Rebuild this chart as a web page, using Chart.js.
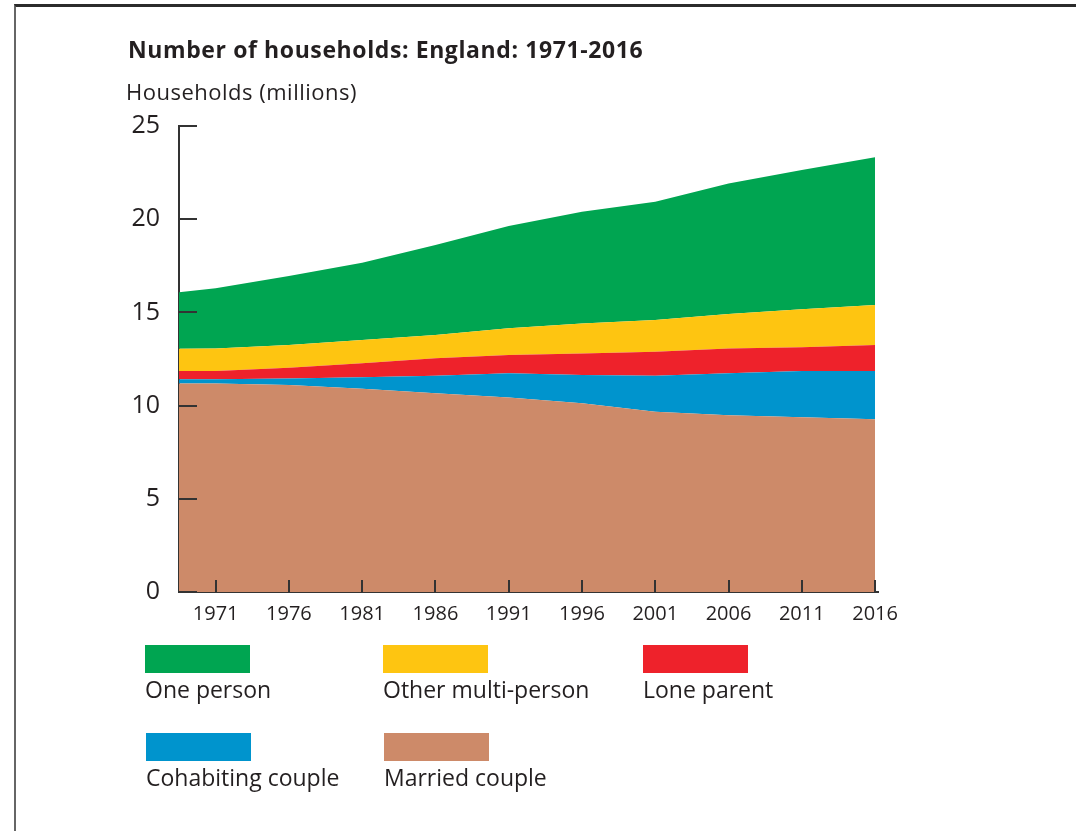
<!DOCTYPE html>
<html>
<head>
<meta charset="utf-8">
<script src="https://cdn.jsdelivr.net/npm/chart.js@4"></script>
<style>
    html, body { margin: 0; padding: 0; background: #fff; }
    body { width: 1076px; height: 831px; position: relative; overflow: hidden; font-family: 'Open Sans', sans-serif; color: #231f20; }
    #frame { position: absolute; left: 14px; top: 4px; right: -10px; bottom: -10px; border-top: 3px solid #2b2b2b; border-left: 2px solid #666; }
    #wrap { position: absolute; left: 0; top: 0; width: 1076px; height: 831px; }
    #title { position: absolute; left: 128px; top: 33px; font-size: 23px; font-weight: 700; letter-spacing: 0.6px; }
    #ytitle { position: absolute; left: 126px; top: 76px; font-size: 22px; letter-spacing: 0.5px; }
    .leg { position: absolute; }
    .leg .box { width: 105px; height: 28px; }
    .leg .lbl { font-size: 23px; margin-top: 0px; white-space: nowrap; }
</style>
</head>
<body>
<div id="frame"></div>
<div id="wrap"><canvas id="householdsChart" width="1076" height="831"></canvas></div>
<div id="title">Number of households: England: 1971-2016</div>
<div id="ytitle">Households (millions)</div>
<div id="legend"></div>
<script>
const chartColors = {
    green: '#00a551',
    yellow: '#fec511',
    red: '#ee222b',
    blue: '#0094cd',
    brown: '#cd8a69',
    axis: '#333333',
    text: '#231f20'
};

const years = [1968, 1971, 1976, 1981, 1986, 1991, 1996, 2001, 2006, 2011, 2016];
const tickYears = [1971, 1976, 1981, 1986, 1991, 1996, 2001, 2006, 2011, 2016];
const yTicks = [0, 5, 10, 15, 20, 25];

// millions of households, bottom to top of the stack
const marriedCouple = [11.19, 11.19, 11.10, 10.90, 10.66, 10.44, 10.12, 9.67, 9.48, 9.37, 9.27];
const cohabitingCouple = [0.22, 0.22, 0.35, 0.62, 0.94, 1.29, 1.52, 1.93, 2.25, 2.49, 2.59];
const loneParent = [0.45, 0.45, 0.58, 0.75, 0.94, 0.98, 1.16, 1.29, 1.34, 1.27, 1.39];
const otherMultiPerson = [1.18, 1.20, 1.22, 1.25, 1.25, 1.44, 1.61, 1.70, 1.84, 2.04, 2.15];
const onePerson = [3.00, 3.23, 3.70, 4.15, 4.83, 5.49, 5.99, 6.35, 7.01, 7.47, 7.92];

const toPoints = values => values.map((v, i) => ({ x: years[i], y: v }));

const areaStyle = {
    borderWidth: 0,
    pointRadius: 0,
    tension: 0
};

const datasets = [
    { label: 'Married couple', data: toPoints(marriedCouple), backgroundColor: chartColors.brown, fill: 'origin', ...areaStyle },
    { label: 'Cohabiting couple', data: toPoints(cohabitingCouple), backgroundColor: chartColors.blue, fill: '-1', ...areaStyle },
    { label: 'Lone parent', data: toPoints(loneParent), backgroundColor: chartColors.red, fill: '-1', ...areaStyle },
    { label: 'Other multi-person', data: toPoints(otherMultiPerson), backgroundColor: chartColors.yellow, fill: '-1', ...areaStyle },
    { label: 'One person', data: toPoints(onePerson), backgroundColor: chartColors.green, fill: '-1', ...areaStyle }
];

// legend layout as in the picture: two rows, box above label
const legendOrder = ['One person', 'Other multi-person', 'Lone parent', 'Cohabiting couple', 'Married couple'];
const legendPos = [[145, 645], [383, 645], [643, 645], [146, 733], [384, 733]];
const legendEl = document.getElementById('legend');
legendOrder.forEach((name, i) => {
    const ds = datasets.find(d => d.label === name);
    const item = document.createElement('div');
    item.className = 'leg';
    item.style.left = legendPos[i][0] + 'px';
    item.style.top = legendPos[i][1] + 'px';
    item.innerHTML = '<div class="box" style="background:' + ds.backgroundColor + '"></div><div class="lbl">' + name + '</div>';
    legendEl.appendChild(item);
});

// tick marks point into the plot
const innerTicks = {
    id: 'innerTicks',
    afterDatasetsDraw(chart) {
        const { ctx, chartArea, scales } = chart;
        ctx.save();
        ctx.strokeStyle = chartColors.axis;
        ctx.lineWidth = 2;
        ctx.beginPath();
        scales.y.ticks.forEach(t => {
            const py = Math.round(scales.y.getPixelForValue(t.value));
            ctx.moveTo(chartArea.left, py);
            ctx.lineTo(chartArea.left + 18, py);
        });
        scales.x.ticks.forEach(t => {
            const px = Math.round(scales.x.getPixelForValue(t.value));
            ctx.moveTo(px, chartArea.bottom);
            ctx.lineTo(px, chartArea.bottom - 12);
        });
        ctx.stroke();
        ctx.restore();
    }
};

const ctx = document.getElementById('householdsChart').getContext('2d');
new Chart(ctx, {
    type: 'line',
    data: { datasets },
    options: {
        responsive: false,
        animation: false,
        layout: {
            padding: { left: 0, top: 126, right: 198, bottom: 0 }
        },
        plugins: {
            legend: { display: false },
            tooltip: { enabled: false }
        },
        scales: {
            x: {
                type: 'linear',
                min: 1968.5,
                max: 2016.2,
                z: 1,
                afterFit: s => { s.height = 239; },
                afterBuildTicks: s => { s.ticks = tickYears.map(v => ({ value: v })); },
                grid: { display: false, drawTicks: false },
                border: { display: true, color: chartColors.axis, width: 2 },
                ticks: {
                    padding: 10,
                    maxRotation: 0,
                    autoSkip: false,
                    color: chartColors.text,
                    font: { family: 'Open Sans', size: 20 },
                    callback: value => String(value)
                }
            },
            y: {
                stacked: true,
                min: 0,
                max: 25,
                z: 1,
                afterFit: s => { s.width = 179; },
                afterBuildTicks: s => { s.ticks = yTicks.map(v => ({ value: v })); },
                grid: { display: false, drawTicks: false },
                border: { display: true, color: chartColors.axis, width: 2 },
                ticks: {
                    padding: 19,
                    color: chartColors.text,
                    font: { family: 'Open Sans', size: 25 }
                }
            }
        }
    },
    plugins: [innerTicks]
});
</script>
</body>
</html>
